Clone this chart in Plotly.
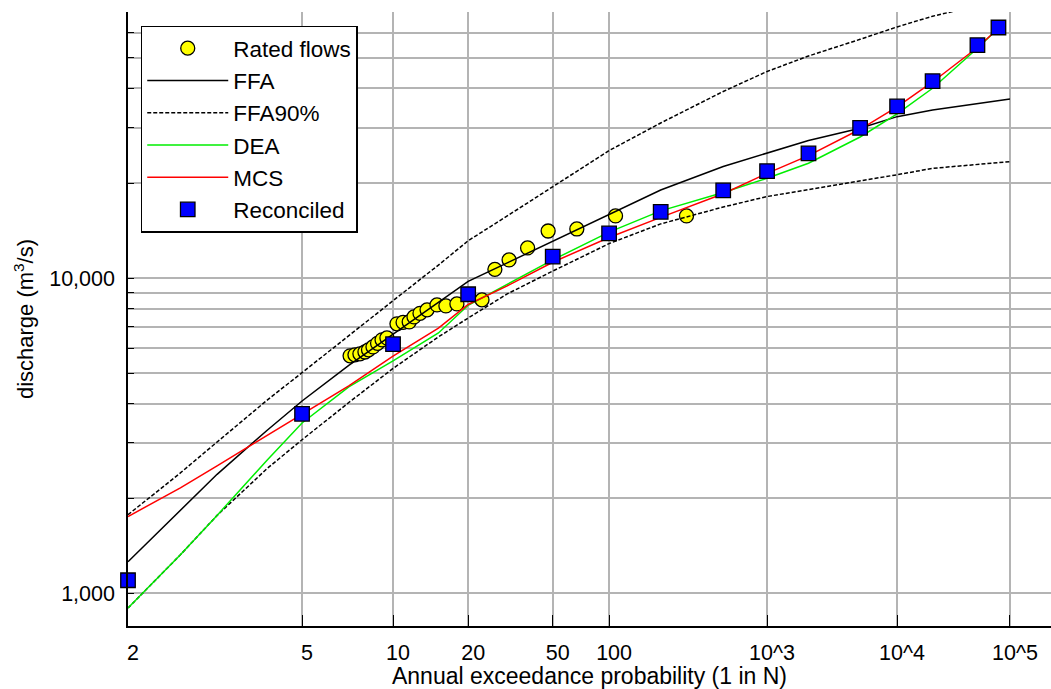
import plotly.graph_objects as go
from statistics import NormalDist

# ---------------- data (return period N = "1 in N", discharge in m3/s) ----------------
rated_N = [7.07, 7.34, 7.63, 7.94, 8.17, 8.47, 8.79, 9.12, 9.5, 10.34, 10.9, 11.5, 12.0,
           12.66, 13.5, 14.8, 16.1, 17.9, 23.0, 26.3, 30.6, 37.5, 47.4, 66.7, 108.7, 289]
rated_Q = [5670, 5710, 5750, 5830, 5920, 6050, 6210, 6370, 6460, 7160, 7240, 7260, 7530,
           7730, 7930, 8220, 8160, 8280, 8530, 10660, 11420, 12470, 14110, 14320, 15750, 15750]

ffa_N = [2, 2.5, 3, 4, 5, 7, 10, 15, 20, 30, 50, 100, 200, 500, 1000, 2000, 5000,
         1e4, 2e4, 5e4, 1e5]
ffa_Q = [1260, 1836, 2385, 3298, 4076, 5289, 6653, 8387, 9761, 11180, 13090, 15860,
         19040, 22610, 24890, 27340, 29880, 32530, 34160, 35690, 37010]

ffa90_upper_N = [2, 2.5, 3, 4, 5, 7, 10, 15, 20, 30, 50, 100, 200, 500, 1000, 2000,
                 5000, 1e4, 2e4, 3.2e4]
ffa90_upper_Q = [1775, 2410, 3020, 4110, 5012, 6580, 8480, 11000, 13140, 15750, 19540,
                 25390, 31060, 39090, 45250, 50670, 57230, 62660, 67760, 70500]

ffa90_lower_N = [2, 2.5, 3, 4, 5, 7, 10, 15, 20, 30, 50, 100, 200, 500, 1000, 2000,
                 5000, 1e4, 2e4, 5e4, 1e5]
ffa90_lower_Q = [898, 1325, 1767, 2494, 3070, 4030, 5170, 6510, 7470, 8910, 10530,
                 12870, 14860, 16810, 18150, 19070, 20260, 21280, 22300, 22930, 23420]

model_N = [2, 2.5, 3, 4, 5, 7, 10, 15, 20, 30, 50, 100, 200, 500, 1000, 2000, 5000,
           1e4, 2e4, 5e4, 7.8e4]
dea_Q = [898, 1325, 1767, 2653, 3470, 4515, 5462, 6697, 8200, 9550, 11420, 13990,
         16340, 18690, 20740, 23140, 28040, 33180, 40020, 53590, 62030]
mcs_Q = [1752, 2161, 2537, 3175, 3682, 4551, 5656, 6937, 8250, 9450, 11230, 13460,
         15580, 18530, 21500, 24480, 29660, 34910, 41910, 53910, 62030]

rec_N = [2, 5, 10, 20, 50, 100, 200, 500, 1000, 2000, 5000, 1e4, 2e4, 5e4, 7.8e4]
rec_Q = [1100, 3710, 6170, 8890, 11700, 13860, 16230, 18980, 21850, 24860, 29970,
         35050, 42150, 54830, 62390]

xtick_N = [2, 5, 10, 20, 50, 100, 1000, 1e4, 1e5]
xtick_labels = ["2", "5", "10", "20", "50", "100", "10^3", "10^4", "10^5"]

ytick_vals = [1000, 2000, 3000, 4000, 5000, 6000, 7000, 8000, 9000,
              10000, 20000, 30000, 40000, 50000, 60000, 70000]
ytick_labels = ["1,000", "", "", "", "", "", "", "", "",
                "10,000", "", "", "", "", "", ""]

# ---------------- normal probability scale ----------------
_nd = NormalDist()


def prob_x(Ns):
    return [_nd.inv_cdf(1.0 - 1.0 / n) for n in Ns]


FONT = "Liberation Sans, Arial, sans-serif"

fig = go.Figure()

fig.add_trace(go.Scatter(
    x=prob_x(rated_N), y=rated_Q, mode="markers", name="Rated flows",
    marker=dict(symbol="circle", size=14, color="#ffff00",
                line=dict(color="black", width=1.3)),
    cliponaxis=False))

fig.add_trace(go.Scatter(
    x=prob_x(ffa_N), y=ffa_Q, mode="lines", name="FFA",
    line=dict(color="black", width=1.5)))

fig.add_trace(go.Scatter(
    x=prob_x(ffa90_upper_N) + [None] + prob_x(ffa90_lower_N),
    y=ffa90_upper_Q + [None] + ffa90_lower_Q,
    mode="lines", name="FFA90%", connectgaps=False,
    line=dict(color="black", width=1.5, dash="4px,2px")))

fig.add_trace(go.Scatter(
    x=prob_x(model_N), y=dea_Q, mode="lines", name="DEA",
    line=dict(color="#00ee00", width=1.5)))

fig.add_trace(go.Scatter(
    x=prob_x(model_N), y=mcs_Q, mode="lines", name="MCS",
    line=dict(color="#ff0000", width=1.5)))

fig.add_trace(go.Scatter(
    x=prob_x(rec_N), y=rec_Q, mode="markers", name="Reconciled",
    marker=dict(symbol="square", size=14.5, color="#0000ff",
                line=dict(color="black", width=1.3)),
    cliponaxis=False))

axis_common = dict(
    showgrid=True, gridcolor="#b4b4b4", gridwidth=1.5,
    showline=True, linecolor="black", linewidth=1.5,
    ticks="inside", tickcolor="black", tickwidth=1.3,
    zeroline=False, mirror=False,
    tickfont=dict(family=FONT, size=21.5, color="black"),
)

fig.update_layout(
    width=1051, height=689,
    margin=dict(l=128, r=0, t=12, b=63, autoexpand=False),
    paper_bgcolor="white", plot_bgcolor="white",
    font=dict(family=FONT, size=22, color="black"),
    showlegend=True,
    legend=dict(
        x=0.0138, y=0.978, xanchor="left", yanchor="top",
        bgcolor="white", bordercolor="black", borderwidth=1.5,
        font=dict(family=FONT, size=22.5, color="black"),
        itemwidth=81, tracegroupgap=0,
        entrywidth=134, entrywidthmode="pixels",
    ),
    xaxis=dict(
        axis_common,
        range=[0, 4.4632],
        tickmode="array", tickvals=prob_x(xtick_N), ticktext=xtick_labels,
        ticklen=11,
        ticklabelstandoff=6,
        ticklabelshift=5,
        title=dict(text="Annual exceedance probability (1 in N)",
                   font=dict(family=FONT, size=23, color="black"), standoff=5),
    ),
    yaxis=dict(
        axis_common,
        type="log",
        range=[2.8963, 4.8443],
        tickmode="array", tickvals=ytick_vals, ticktext=ytick_labels,
        ticklen=6,
        ticklabelstandoff=7,
        title=dict(text="discharge (m<sup>3</sup>/s)",
                   font=dict(family=FONT, size=22, color="black"), standoff=9),
    ),
)

fig.write_html("out.html")
